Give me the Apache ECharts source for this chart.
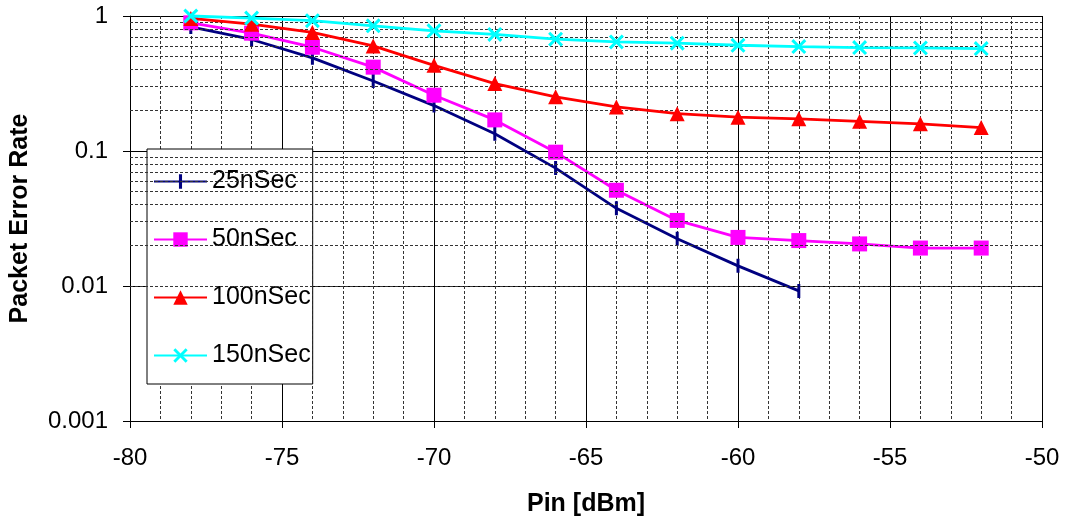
<!DOCTYPE html>
<html>
<head>
<meta charset="utf-8">
<script src="https://cdn.jsdelivr.net/npm/echarts@6/dist/echarts.min.js"></script>
<style>
html,body{margin:0;padding:0;background:#fff;}
#chart{width:1066px;height:518px;}
</style>
</head>
<body>
<div id="chart"></div>
<script>
// ---- data ----
const xValues = [-78, -76, -74, -72, -70, -68, -66, -64, -62, -60, -58, -56, -54, -52];
const seriesNames = ['25nSec', '50nSec', '100nSec', '150nSec'];
const per25 = [0.83, 0.67, 0.49, 0.33, 0.217, 0.134, 0.0747, 0.0376, 0.0224, 0.0141, 0.0092];
const per50 = [0.89, 0.746, 0.587, 0.418, 0.259, 0.170, 0.098, 0.0512, 0.0306, 0.0229, 0.0217, 0.0205, 0.0191, 0.0191];
const per100 = [0.96, 0.87, 0.755, 0.60, 0.431, 0.316, 0.252, 0.212, 0.189, 0.178, 0.173, 0.166, 0.159, 0.149];
const per150 = [1.0, 0.966, 0.923, 0.846, 0.777, 0.730, 0.673, 0.643, 0.629, 0.607, 0.594, 0.584, 0.580, 0.574];
const yMinorGrid = [0.002, 0.003, 0.004, 0.005, 0.006, 0.007, 0.008, 0.009,
                    0.02, 0.03, 0.04, 0.05, 0.06, 0.07, 0.08, 0.09,
                    0.2, 0.3, 0.4, 0.5, 0.6, 0.7, 0.8, 0.9];
const xAxisTitle = 'Pin [dBm]';
const yAxisTitle = 'Packet Error Rate';

// ---- build ----
const FONT = "'Liberation Sans', Arial, sans-serif";
function pairs(ys) { return ys.map((y, i) => [xValues[i], y]); }

const barSym = 'path://M0,7h0.01v0.01h-0.01z M5.5,0h3v14h-3z M13.99,7h0.01v0.01h-0.01z';
const xSym = 'path://M0,2L2,0L7,5L12,0L14,2L9,7L14,12L12,14L7,9L2,14L0,12L5,7Z';

const styles = [
  {color: '#000080', symbol: barSym, size: 14},
  {color: '#FF00FF', symbol: 'rect', size: 15},
  {color: '#FF0000', symbol: 'triangle', size: 15},
  {color: '#00FFFF', symbol: xSym, size: 15}
];
const allData = [per25, per50, per100, per150];

const series = [{
  name: 'minorGrid',
  type: 'line',
  data: [],
  z: 1,
  silent: true,
  markLine: {
    silent: true,
    symbol: 'none',
    label: {show: false},
    lineStyle: {color: '#333', width: 1, type: [3, 2]},
    animation: false,
    data: yMinorGrid.map(v => ({yAxis: v}))
  }
}];
seriesNames.forEach((n, i) => {
  series.push({
    name: n,
    type: 'line',
    data: pairs(allData[i]),
    z: 3 + i,
    clip: false,
    symbol: styles[i].symbol,
    symbolSize: styles[i].size,
    showAllSymbol: true,
    lineStyle: {color: styles[i].color, width: 2.8},
    itemStyle: {color: styles[i].color},
    emphasis: {disabled: true}
  });
});

const chart = echarts.init(document.getElementById('chart'), null, {renderer: 'canvas'});
chart.setOption({
  animation: false,
  backgroundColor: '#fff',
  textStyle: {fontFamily: FONT},
  grid: {left: 130, top: 16, width: 912, height: 405, containLabel: false, outerBoundsMode: 'none'},
  legend: {
    orient: 'vertical',
    left: 147, top: 149,
    padding: [20, 2, 16, 6],
    itemGap: 33,
    itemWidth: 53,
    itemHeight: 18,
    backgroundColor: '#fff',
    borderColor: '#000',
    borderWidth: 1,
    borderRadius: 0,
    data: seriesNames,
    textStyle: {fontSize: 25, color: '#000', fontFamily: FONT, lineHeight: 25}
  },
  xAxis: {
    type: 'value',
    min: -80, max: -50, interval: 5,
    name: xAxisTitle,
    nameLocation: 'middle',
    nameGap: 71,
    nameTextStyle: {fontSize: 25, fontWeight: 'bold', color: '#000', fontFamily: FONT},
    axisLine: {show: true, onZero: false, lineStyle: {color: '#000', width: 1}},
    axisTick: {show: true, inside: false, length: 7, lineStyle: {color: '#000'}},
    axisLabel: {fontSize: 24, color: '#000', margin: 25, fontFamily: FONT},
    splitLine: {show: true, lineStyle: {color: '#000', width: 1, type: 'solid'}},
    minorTick: {show: false, splitNumber: 5},
    minorSplitLine: {show: true, lineStyle: {color: '#333', width: 1, type: [3, 2]}}
  },
  yAxis: {
    type: 'log',
    logBase: 10,
    min: 0.001, max: 1,
    name: yAxisTitle,
    nameLocation: 'middle',
    nameGap: 97,
    nameTextStyle: {fontSize: 25, fontWeight: 'bold', color: '#000', fontFamily: FONT},
    axisLine: {show: true, lineStyle: {color: '#000', width: 1}},
    axisTick: {show: true, inside: false, length: 7, lineStyle: {color: '#000'}},
    axisLabel: {
      fontSize: 24, color: '#000', margin: 22, fontFamily: FONT,
      formatter: v => String(parseFloat(Number(v).toPrecision(6)))
    },
    splitLine: {show: true, lineStyle: {color: '#000', width: 1, type: 'solid'}}
  },
  series: series
});
</script>
</body>
</html>
